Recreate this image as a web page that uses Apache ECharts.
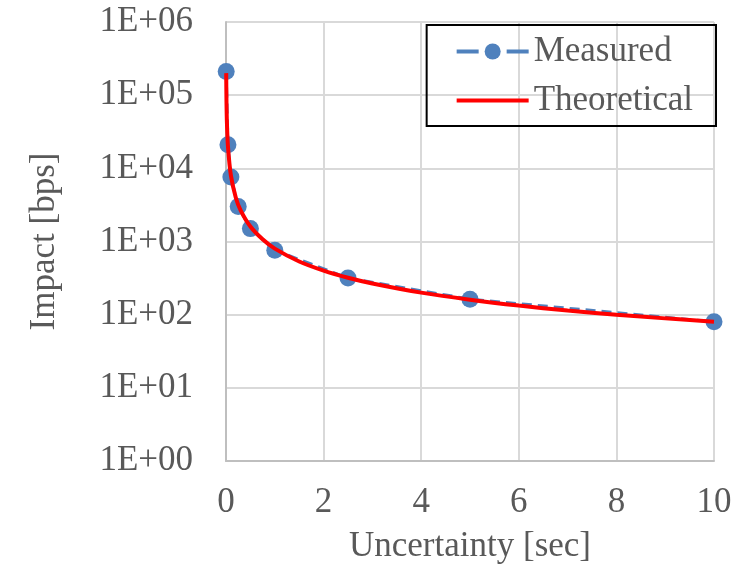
<!DOCTYPE html>
<html>
<head>
<meta charset="utf-8">
<script src="https://cdn.jsdelivr.net/npm/echarts@6/dist/echarts.min.js"></script>
<style>
  html, body { margin: 0; padding: 0; background: #fff; }
  #chart { width: 753px; height: 569px; }
</style>
</head>
<body>
<div id="chart"></div>
<script>
  // measured points (uncertainty sec -> impact bps)
  var measuredX = [0.004, 0.04, 0.1, 0.25, 0.5, 1, 2.5, 5, 10]
  var measuredY = [210000, 21000, 7600, 3000, 1500, 760, 316, 163, 80]
  // theoretical curve
  var theoryX = [0.004, 0.01, 0.02, 0.04, 0.1, 0.2, 0.3, 0.5, 0.75, 1, 1.5, 2, 2.5, 3, 4, 5, 6, 7, 8, 9, 10]
  var theoryY = [200000, 80000, 40000, 20000, 8000, 4000, 2670, 1600, 1070, 800, 533, 400, 320, 267, 200, 160, 133, 114, 100, 89, 80]
  var xTicks = [0, 2, 4, 6, 8, 10]

  var font = 'Liberation Serif'
  var fontSize = 35
  var textColor = '#595959'
  var chart = echarts.init(document.getElementById('chart'))

  function pairs(xs, ys) {
    return xs.map(function (x, i) { return [x, ys[i]] })
  }

  chart.setOption({
    backgroundColor: '#fff',
    animation: false,
    textStyle: { fontFamily: font },
    grid: {
      left: 226,
      right: 39,
      top: 22,
      bottom: 105
    },
    legend: {
      right: 37,
      top: 25,
      orient: 'vertical',
      borderColor: '#000',
      borderWidth: 2,
      padding: [9, 23, 8, 28],
      itemWidth: 72,
      itemHeight: 20,
      itemGap: 14,
      textStyle: { fontFamily: font, fontSize: fontSize, color: textColor },
      data: [
        { name: 'Measured', lineStyle: { width: 4, type: [22, 28] } },
        { name: 'Theoretical', lineStyle: { width: 4 }, itemStyle: { color: 'rgba(0,0,0,0)', borderWidth: 0 } }
      ]
    },
    xAxis: {
      type: 'value',
      min: 0,
      max: 10,
      interval: 2,
      name: 'Uncertainty [sec]',
      nameLocation: 'middle',
      nameGap: 68,
      nameTextStyle: { fontFamily: font, fontSize: fontSize, color: textColor },
      axisLabel: {
        margin: 24,
        fontFamily: font,
        fontSize: fontSize,
        color: textColor,
        formatter: function (v) { return xTicks.indexOf(v) >= 0 ? String(v) : '' }
      },
      axisLine: { show: true, lineStyle: { color: '#bfbfbf', width: 2 } },
      axisTick: { show: false },
      splitLine: { show: true, lineStyle: { color: '#d9d9d9', width: 2 } }
    },
    yAxis: {
      type: 'log',
      logBase: 10,
      min: 1,
      max: 1000000,
      name: 'Impact [bps]',
      nameLocation: 'middle',
      nameGap: 164,
      nameRotate: 90,
      nameTextStyle: { fontFamily: font, fontSize: fontSize, color: textColor },
      axisLabel: {
        margin: 33,
        fontFamily: font,
        fontSize: fontSize,
        color: textColor,
        formatter: function (v) {
          var e = Math.round(Math.log10(v))
          return '1E+' + (e < 10 ? '0' : '') + e
        }
      },
      axisLine: { show: true, lineStyle: { color: '#bfbfbf', width: 2 } },
      axisTick: { show: false },
      splitLine: { show: true, lineStyle: { color: '#d9d9d9', width: 2 } }
    },
    series: [
      {
        name: 'Measured',
        type: 'line',
        data: pairs(measuredX, measuredY),
        symbol: 'circle',
        symbolSize: 17,
        itemStyle: { color: '#4f81bd' },
        lineStyle: { color: '#4f81bd', width: 3, type: [10, 6] },
        z: 2
      },
      {
        name: 'Theoretical',
        type: 'line',
        data: pairs(theoryX, theoryY),
        smooth: 0.3,
        showSymbol: false,
        symbol: 'none',
        itemStyle: { color: '#ff0000' },
        lineStyle: { color: '#ff0000', width: 4 },
        z: 3
      }
    ]
  })
</script>
</body>
</html>
